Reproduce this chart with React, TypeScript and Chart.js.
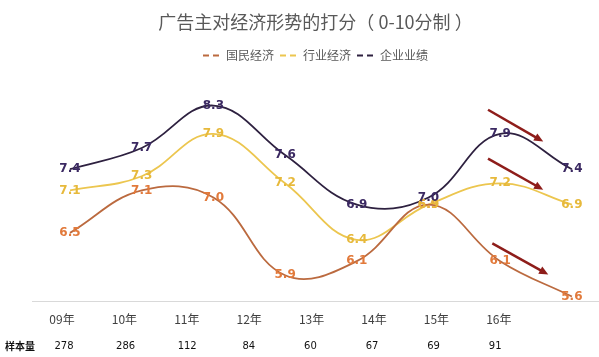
import React, { useEffect, useRef } from "react";
import { Chart, registerables } from "chart.js";

Chart.register(...registerables);

const titleText = "广告主对经济形势的打分（ 0-10分制 ）";
const years = ["09年", "10年", "11年", "12年", "13年", "14年", "15年", "16年"];
const sampleTitle = "样本量";
const sampleSizes = ["278", "286", "112", "84", "60", "67", "69", "91"];
const seriesNames = ["国民经济", "行业经济", "企业业绩"];
const national = [6.5, 7.1, 7.0, 5.9, 6.1, 6.9, 6.1, 5.6];
const industry = [7.1, 7.3, 7.9, 7.2, 6.4, 6.9, 7.2, 6.9];
const business = [7.4, 7.7, 8.3, 7.6, 6.9, 7.0, 7.9, 7.4];
const lineColors = ["#bb6a3f", "#ecc64f", "#2e2140"];
const labelColors = ["#e27a3b", "#e7b93b", "#3b2962"];
// trend arrows (annotation), in data coordinates [year index, score]
const arrowFrom = [[5.83, 8.24], [5.83, 7.55], [5.89, 6.35]];
const arrowTo = [[6.6, 7.79], [6.6, 7.11], [6.67, 5.91]];

const CJK = "'Noto Sans CJK SC', 'DejaVu Sans', sans-serif";

const labelPlugin = {
  id: "valueLabelsAndArrows",
  afterDatasetsDraw(chart: any) {
    const ctx = chart.ctx;
    ctx.save();
    ctx.font = "bold 12px 'DejaVu Sans'";
    ctx.textAlign = "center";
    ctx.textBaseline = "middle";
    chart.data.datasets.forEach((ds: any, di: number) => {
      const meta = chart.getDatasetMeta(di);
      meta.data.forEach((pt: any, i: number) => {
        ctx.fillStyle = labelColors[di];
        ctx.fillText(Number(ds.data[i].y).toFixed(1), pt.x, pt.y);
      });
    });
    const xs = chart.scales.x;
    const ys = chart.scales.y;
    ctx.strokeStyle = "#8e1d1a";
    ctx.fillStyle = "#8e1d1a";
    ctx.lineWidth = 2.5;
    arrowFrom.forEach((f, k) => {
      const x1 = xs.getPixelForValue(f[0]);
      const y1 = ys.getPixelForValue(f[1]);
      const x2 = xs.getPixelForValue(arrowTo[k][0]);
      const y2 = ys.getPixelForValue(arrowTo[k][1]);
      const ang = Math.atan2(y2 - y1, x2 - x1);
      const head = 10;
      ctx.beginPath();
      ctx.moveTo(x1, y1);
      ctx.lineTo(x2 - Math.cos(ang) * head * 0.6, y2 - Math.sin(ang) * head * 0.6);
      ctx.stroke();
      ctx.beginPath();
      ctx.moveTo(x2, y2);
      ctx.lineTo(x2 - head * Math.cos(ang - 0.42), y2 - head * Math.sin(ang - 0.42));
      ctx.lineTo(x2 - head * Math.cos(ang + 0.42), y2 - head * Math.sin(ang + 0.42));
      ctx.closePath();
      ctx.fill();
    });
    ctx.restore();
  },
};

export default function App() {
  const ref = useRef<HTMLCanvasElement | null>(null);
  useEffect(() => {
    if (!ref.current) return;
    const all = [national, industry, business];
    const chart = new Chart(ref.current, {
      type: "line",
      data: {
        datasets: all.map((arr, di) => ({
          label: seriesNames[di],
          data: arr.map((v, i) => ({ x: i, y: v })),
          borderColor: lineColors[di],
          backgroundColor: lineColors[di],
          borderWidth: 1.8,
          pointRadius: 0,
          tension: 0.4,
          fill: false,
        })),
      },
      options: {
        animation: false,
        responsive: false,
        layout: { padding: { left: 32, right: 0, top: 0, bottom: 3 } },
        plugins: {
          title: {
            display: true,
            text: titleText,
            color: "#595959",
            font: { size: 18, family: CJK, weight: "normal" },
            padding: { top: 11, bottom: 11 },
          },
          legend: {
            display: true,
            labels: {
              usePointStyle: true,
              pointStyleWidth: 17,
              padding: 6,
              color: "#595959",
              font: { size: 12, family: CJK },
              generateLabels: (ch: any) =>
                ch.data.datasets.map((ds: any, i: number) => ({
                  text: ds.label,
                  fillStyle: lineColors[i],
                  strokeStyle: lineColors[i],
                  lineWidth: 2,
                  lineDash: [6, 4],
                  pointStyle: "line",
                  hidden: false,
                  datasetIndex: i,
                  fontColor: "#595959",
                })),
            },
          },
          tooltip: { enabled: false },
        },
        scales: {
          x: {
            type: "linear",
            min: -0.53,
            max: 7.378,
            weight: 0,
            grid: { display: false, drawTicks: false },
            border: { display: true, color: "#d9d9d9", width: 1 },
            ticks: { display: false },
          },
          x2: {
            type: "linear",
            axis: "x",
            position: "bottom",
            min: -0.481,
            max: 8.606,
            weight: 1,
            grid: { display: false, drawTicks: false },
            border: { display: false },
            afterBuildTicks: (s: any) => {
              s.ticks = years.map((_, i) => ({ value: i }));
            },
            ticks: {
              autoSkip: false,
              maxRotation: 0,
              padding: 11,
              color: "#404040",
              font: { size: 12, family: CJK },
              callback: (_v: any, i: number) => years[i],
            },
          },
          x3: {
            type: "linear",
            axis: "x",
            position: "bottom",
            min: -0.519,
            max: 8.685,
            weight: 2,
            grid: { display: false, drawTicks: false },
            border: { display: false },
            afterBuildTicks: (s: any) => {
              s.ticks = [{ value: -0.958 }]
                .concat(sampleSizes.map((_, i) => ({ value: i })))
                .concat([{ value: 8.6 }]);
            },
            ticks: {
              autoSkip: false,
              maxRotation: 0,
              align: "inner",
              padding: 2,
              color: "#111111",
              font: (c: any) =>
                c.index === 0
                  ? { size: 10, family: CJK, weight: "bold" }
                  : { size: 10, family: "'DejaVu Sans', sans-serif" },
              callback: (_v: any, i: number) =>
                i === 0 ? sampleTitle : i <= sampleSizes.length ? sampleSizes[i - 1] : "",
            },
          },
          y: {
            display: false,
            min: 5.528,
            max: 8.78,
          },
        },
      },
      plugins: [labelPlugin],
    } as any);
    return () => chart.destroy();
  }, []);
  return (
    <div style={{ position: "fixed", left: 0, top: 0, width: 599, height: 357, background: "#fff" }}>
      <canvas ref={ref} width={599} height={357} style={{ display: "block" }} />
    </div>
  );
}
